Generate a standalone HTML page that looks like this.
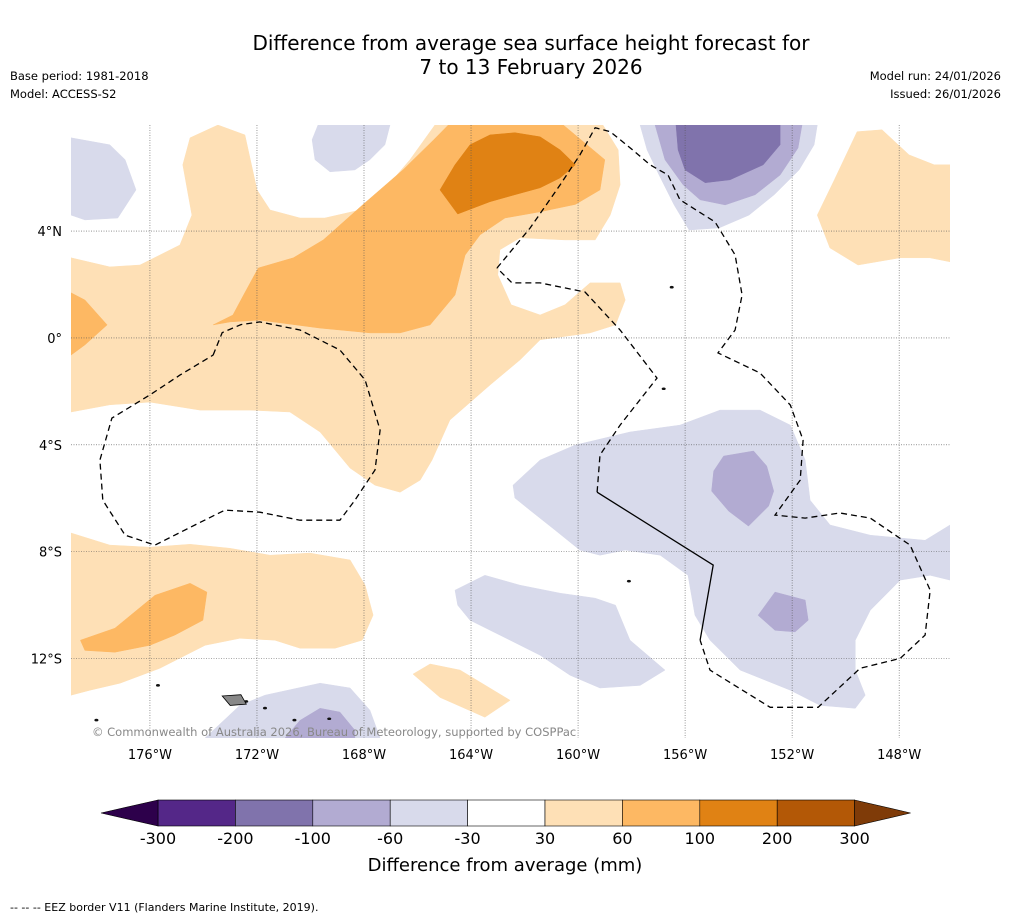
<!DOCTYPE html>
<html><head><meta charset="utf-8"><style>
body{margin:0;background:#fff;font-family:"DejaVu Sans","Liberation Sans",sans-serif;}
svg text{font-family:"DejaVu Sans","Liberation Sans",sans-serif;}
</style></head><body>
<svg id="fig" width="1011" height="919" viewBox="0 0 1011 919">
<rect width="1011" height="919" fill="#fff"/>
<text x="531" y="50" text-anchor="middle" font-size="20">Difference from average sea surface height forecast for</text>
<text x="531" y="74" text-anchor="middle" font-size="20">7 to 13 February 2026</text>
<text x="10" y="80" font-size="11.5">Base period: 1981-2018</text>
<text x="10" y="98" font-size="11.5">Model: ACCESS-S2</text>
<text x="1001" y="80" font-size="11.5" text-anchor="end">Model run: 24/01/2026</text>
<text x="1001" y="98" font-size="11.5" text-anchor="end">Issued: 26/01/2026</text>
<defs><clipPath id="mapclip"><rect x="71" y="125" width="879" height="613"/></clipPath></defs>
<g id="map" clip-path="url(#mapclip)"></g>
<g id="grid"></g>
<g id="eez"></g>
<g id="axes"></g>
<text x="92" y="736" font-size="11.5" fill="#888">© Commonwealth of Australia 2026, Bureau of Meteorology, supported by COSPPac</text>
<g id="cbar"></g>
<text x="505" y="871" text-anchor="middle" font-size="18">Difference from average (mm)</text>
<text x="10" y="911" font-size="11">--  --  -- EEZ border V11 (Flanders Marine Institute, 2019).</text>
</svg>
<script>
const NS="http://www.w3.org/2000/svg";
const lonTicks=[-176,-172,-168,-164,-160,-156,-152,-148];
const latTicks=[4,0,-4,-8,-12];
const cbLevels=[-300,-200,-100,-60,-30,30,60,100,200,300];
const cbColors=["#542788","#8073ac","#b2abd2","#d8daeb","#ffffff","#fee0b6","#fdb863","#e08214","#b35806"];
const cbExtLow="#2d004b", cbExtHigh="#7f3b08";
const regions=[
 [5,[[-178.95,3.0],[-177.5,2.66],[-176.37,2.73],[-174.88,3.48],[-174.43,4.6],[-174.77,6.48],[-174.5,7.49],[-173.46,7.97],[-172.45,7.6],[-172,5.54],[-171.51,4.79],[-170.39,4.49],[-169.46,4.49],[-168.15,4.79],[-167.4,5.36],[-166.28,6.67],[-165.35,7.97],[-159.07,7.97],[-158.5,7.04],[-158.43,5.73],[-158.8,4.6],[-159.36,3.67],[-160.49,3.67],[-162.17,3.75],[-162.92,3.3],[-163,2.36],[-162.5,1.24],[-161.42,0.86],[-160.49,1.24],[-159.55,2.06],[-158.43,2.06],[-158.24,1.42],[-158.6,0.49],[-159.55,0.19],[-161.42,-0.07],[-162.17,-0.82],[-163.29,-1.76],[-164.79,-3.07],[-165.46,-4.57],[-165.9,-5.32],[-166.65,-5.77],[-167.59,-5.51],[-168.52,-4.87],[-169.64,-3.52],[-170.77,-2.77],[-172.26,-2.7],[-174.13,-2.7],[-176,-2.4],[-177.5,-2.5],[-178.95,-2.77]]],
 [6,[[-173.64,0.49],[-172.9,0.86],[-172.5,1.61],[-171.95,2.62],[-170.64,3.0],[-169.52,3.67],[-168.03,5.0],[-166.53,6.3],[-165.41,7.4],[-164.85,7.97],[-160.55,7.97],[-159.0,6.67],[-159.18,5.54],[-160.1,5.0],[-161.42,4.72],[-162.73,4.49],[-163.66,3.86],[-164.22,3.1],[-164.6,1.61],[-165.53,0.49],[-166.65,0.19],[-167.77,0.19],[-169.64,0.37],[-171.9,0.67],[-173,0.6]]],
 [7,[[-165.16,5.54],[-164.6,6.48],[-164.04,7.23],[-163.29,7.6],[-162.36,7.68],[-161.42,7.53],[-160.67,7.04],[-160.1,6.48],[-160.67,5.99],[-161.42,5.62],[-162.36,5.36],[-163.29,5.1],[-164.5,4.64]]],
 [6,[[-178.95,1.69],[-178.43,1.42],[-177.6,0.49],[-178.43,-0.26],[-178.95,-0.64]]],
 [3,[[-178.95,7.49],[-177.5,7.23],[-176.93,6.67],[-176.52,5.54],[-177.2,4.49],[-178.43,4.42],[-178.95,4.6]]],
 [3,[[-169.72,7.97],[-167.03,7.97],[-167.22,7.23],[-167.78,6.67],[-168.34,6.29],[-169.27,6.22],[-169.83,6.67],[-169.94,7.42]]],
 [3,[[-157.68,7.97],[-151.06,7.97],[-151.18,7.23],[-151.74,6.29],[-152.67,5.36],[-153.61,4.6],[-154.73,4.12],[-155.85,4.04],[-156.41,4.98],[-156.97,6.1],[-157.42,7.04]]],
 [2,[[-157.12,7.97],[-151.63,7.97],[-151.78,7.11],[-152.45,6.1],[-153.38,5.36],[-154.5,4.98],[-155.44,5.17],[-156.07,5.73],[-156.75,6.67]]],
 [1,[[-156.34,7.97],[-152.45,7.97],[-152.45,7.23],[-153.08,6.48],[-154.32,5.92],[-155.25,5.81],[-156,6.29],[-156.26,7.04]]],
 [5,[[-151.06,4.6],[-150.42,5.92],[-149.57,7.72],[-148.64,7.79],[-147.63,6.85],[-146.69,6.48],[-146.1,6.48],[-146.1,2.85],[-146.85,3.0],[-147.97,3.0],[-149.54,2.73],[-150.59,3.37]]],
 [3,[[-162.43,-5.51],[-161.42,-4.57],[-160.11,-4.01],[-158.06,-3.52],[-156.19,-3.26],[-154.69,-2.7],[-153.2,-2.7],[-152.07,-3.26],[-151.51,-4.57],[-151.33,-6.07],[-150.58,-7.0],[-149.08,-7.38],[-147.03,-7.57],[-146.1,-7.0],[-146.1,-9.06],[-146.84,-8.88],[-147.96,-9.06],[-149.08,-10.19],[-149.64,-11.31],[-149.64,-12.43],[-149.27,-13.37],[-149.64,-13.86],[-150.95,-13.75],[-152.07,-13.18],[-153.94,-12.43],[-155.07,-11.31],[-155.63,-10.38],[-155.89,-8.88],[-156.93,-8.13],[-158.24,-7.94],[-159.18,-8.13],[-159.93,-7.94],[-160.86,-7.19],[-161.8,-6.44],[-162.36,-5.99]]],
 [2,[[-154.93,-4.98],[-154.56,-4.42],[-153.44,-4.23],[-152.95,-4.79],[-152.69,-5.73],[-152.88,-6.29],[-153.63,-7.04],[-154.37,-6.48],[-155.01,-5.73]]],
 [2,[[-153.27,-10.38],[-152.64,-9.51],[-151.51,-9.81],[-151.4,-10.56],[-151.89,-11.0],[-152.64,-10.94]]],
 [3,[[-164.6,-9.44],[-163.48,-8.88],[-162.17,-9.25],[-160.67,-9.55],[-159.36,-9.74],[-158.6,-10.0],[-158.06,-11.31],[-156.75,-12.43],[-157.68,-13.0],[-159.18,-13.1],[-160.3,-12.62],[-161.42,-11.87],[-162.92,-11.12],[-164.04,-10.56],[-164.5,-10.0]]],
 [3,[[-173.94,-14.97],[-172.64,-13.75],[-171.7,-13.37],[-169.64,-12.92],[-168.52,-13.1],[-167.78,-13.93],[-167.4,-14.97]]],
 [2,[[-170.95,-14.97],[-170.39,-14.31],[-169.64,-13.86],[-168.9,-14.0],[-168.34,-14.68],[-168.34,-14.97]]],
 [5,[[-178.95,-7.3],[-177.5,-7.75],[-176,-7.83],[-174.5,-7.72],[-173.01,-7.87],[-171.51,-8.13],[-170.02,-8.05],[-168.52,-8.31],[-167.96,-9.25],[-167.66,-10.37],[-168.07,-11.31],[-169.08,-11.61],[-170.39,-11.61],[-171.33,-11.31],[-172.64,-11.24],[-173.94,-11.5],[-175.63,-12.36],[-177.12,-12.92],[-178.24,-13.18],[-178.95,-13.37]]],
 [6,[[-178.6,-11.31],[-177.31,-10.86],[-175.81,-9.63],[-174.5,-9.18],[-173.87,-9.51],[-174.02,-10.56],[-175.07,-11.12],[-176,-11.5],[-177.31,-11.76],[-178.43,-11.69]]],
 [5,[[-166.17,-12.58],[-165.53,-12.2],[-164.41,-12.43],[-162.54,-13.56],[-163.48,-14.19],[-165.16,-13.45]]]
];
const eezDashed=[
 [[-173.64,-0.64],[-173.3,0.2],[-172.6,0.5],[-171.89,0.6],[-170.39,0.3],[-168.9,-0.45],[-167.96,-1.57],[-167.4,-3.45],[-167.59,-4.94],[-168.34,-6.07],[-168.9,-6.82],[-170.39,-6.82],[-171.89,-6.52],[-173.2,-6.44],[-174.32,-7.0],[-175.81,-7.75],[-176.93,-7.38],[-177.76,-6.07],[-177.87,-4.57],[-177.42,-3.0],[-176,-2.13],[-174.88,-1.39],[-173.64,-0.64]],
 [[-163.03,2.62],[-161.79,4.12],[-160.67,5.73],[-159.93,6.85],[-159.36,7.87],[-158.8,7.72],[-158.06,7.12],[-157.31,6.48],[-156.64,6.1],[-156.19,5.17],[-154.88,4.34],[-154.13,3.11],[-153.87,1.61],[-154.13,0.3],[-154.77,-0.56],[-153.2,-1.31],[-152.07,-2.51],[-151.59,-3.82],[-151.7,-5.32],[-152.64,-6.63],[-151.51,-6.74],[-150.21,-6.55],[-149.08,-6.74],[-147.59,-7.75],[-146.84,-9.44],[-147.03,-11.12],[-147.96,-11.99],[-149.46,-12.36],[-151.03,-13.82],[-152.82,-13.82],[-155.07,-12.43],[-155.44,-11.31]],
 [[-159.29,-5.77],[-159.18,-4.38],[-158.43,-3.26],[-157.05,-1.5],[-158.43,0.3],[-159.74,1.72],[-161.42,2.06],[-162.47,2.06],[-163.03,2.62]]
];
const eezSolid=[[-155.44,-11.31],[-154.95,-8.5],[-159.29,-5.77]];
const islands=[[-172.4,-13.6],[-171.7,-13.85],[-170.6,-14.3],[-169.3,-14.25],[-175.7,-13.0],[-178.0,-14.3],[-156.8,-1.9],[-158.1,-9.1],[-156.5,1.9]];

const LON0=-178.95,LON1=-146.1,LAT0=7.97,LAT1=-14.97,X0=71,X1=950,Y0=125,Y1=738;
const xS=lon=>X0+(lon-LON0)/(LON1-LON0)*(X1-X0);
const yS=lat=>Y0+(lat-LAT0)/(LAT1-LAT0)*(Y1-Y0);
const pts=arr=>arr.map(p=>xS(p[0]).toFixed(1)+","+yS(p[1]).toFixed(1)).join(" ");
function mk(tag,attrs,parent){const e=document.createElementNS(NS,tag);for(const k in attrs)e.setAttribute(k,attrs[k]);parent.appendChild(e);return e;}
const map=document.getElementById('map');
regions.forEach((r,i)=>{
 const p=mk('polygon',{points:pts(r[1]),fill:cbColors[r[0]],stroke:cbColors[r[0]],'stroke-width':0.5},map);
 
 
});
islands.forEach((s,i)=>{
 const c=mk('ellipse',{cx:xS(s[0]),cy:yS(s[1]),rx:2,ry:1.3,fill:'#111'},map);
 
 
});
const samoa=mk('polygon',{points:pts([[-173.3,-13.4],[-172.6,-13.35],[-172.4,-13.7],[-173.0,-13.75]]),fill:'#888',stroke:'#000','stroke-width':0.8},map);


const grid=document.getElementById('grid');
lonTicks.forEach(l=>{const g=mk('line',{x1:xS(l),x2:xS(l),y1:Y0,y2:Y1,stroke:'#555','stroke-width':0.6,'stroke-dasharray':'1,1.5'},grid);
 
 });
latTicks.forEach(l=>{const g=mk('line',{x1:X0,x2:X1,y1:yS(l),y2:yS(l),stroke:'#555','stroke-width':0.6,'stroke-dasharray':'1,1.5'},grid);
 
 });
const eez=document.getElementById('eez');
eezDashed.forEach(s=>{const e=mk('polyline',{points:pts(s),fill:'none',stroke:'#000','stroke-width':1.3,'stroke-dasharray':'6,4'},eez);
 
 });
const es=mk('polyline',{points:pts(eezSolid),fill:'none',stroke:'#000','stroke-width':1.3},eez);


const axes=document.getElementById('axes');
lonTicks.forEach(l=>{const t=mk('text',{x:xS(l),y:759,'font-size':13,'text-anchor':'middle'},axes);t.textContent=Math.abs(l)+"°W";
 
 });
latTicks.forEach(l=>{const t=mk('text',{x:62,y:yS(l)+5,'font-size':13,'text-anchor':'end'},axes);t.textContent=l===0?"0°":Math.abs(l)+"°"+(l>0?"N":"S");
 
 });
const cb=document.getElementById('cbar');
const CB0=158,CBW=77.4,CBY=800,CBH=26;
cbColors.forEach((c,i)=>{const r=mk('rect',{x:CB0+i*CBW,y:CBY,width:CBW,height:CBH,fill:c,stroke:'#000','stroke-width':0.6},cb);
 
 });
const lo=mk('polygon',{points:`${CB0},${CBY} ${CB0-57},${CBY+CBH/2} ${CB0},${CBY+CBH}`,fill:cbExtLow,stroke:'#000','stroke-width':0.6},cb);


const xe=CB0+cbColors.length*CBW;
const hi=mk('polygon',{points:`${xe},${CBY} ${xe+56},${CBY+CBH/2} ${xe},${CBY+CBH}`,fill:cbExtHigh,stroke:'#000','stroke-width':0.6},cb);


cbLevels.forEach((v,i)=>{const t=mk('text',{x:CB0+i*CBW,y:844,'font-size':16,'text-anchor':'middle'},cb);t.textContent=v;
 
 });
</script>
</body></html>
